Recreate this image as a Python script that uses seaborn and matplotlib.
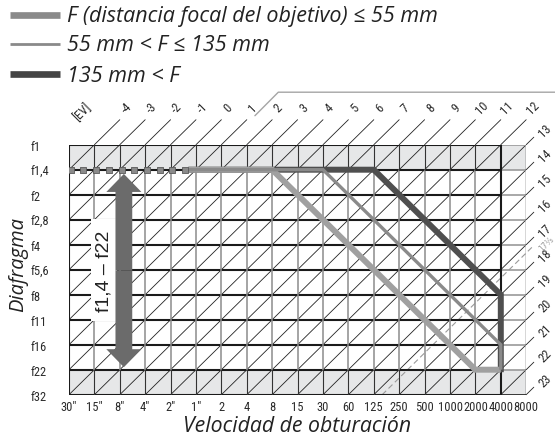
import matplotlib
matplotlib.use("Agg")
import matplotlib.pyplot as plt
from matplotlib.lines import Line2D
from matplotlib.patches import Rectangle, FancyArrow
from matplotlib import font_manager as fm
import numpy as np
import pandas as pd
import seaborn as sns

# ---------------- data ----------------
shutter_labels = ['30"', '15"', '8"', '4"', '2"', '1"', '2', '4', '8', '15', '30',
                  '60', '125', '250', '500', '1000', '2000', '4000', '8000']
aperture_labels = ['f1', 'f1,4', 'f2', 'f2,8', 'f4', 'f5,6', 'f8', 'f11', 'f16', 'f22', 'f32']
ev_top_labels = ['-4', '-3', '-2', '-1', '0', '1', '2', '3', '4', '5', '6', '7', '8', '9', '10', '11', '12']
ev_right_labels = ['13', '14', '15', '16', '17', '18', '19', '20', '21', '22', '23']
ev_top_values = [-4, -3, -2, -1, 0, 1, 2, 3, 4, 5, 6, 7, 8, 9, 10, 11, 12]
ev_right_values = [13, 14, 15, 16, 17, 18, 19, 20, 21, 22, 23]
ev_origin = -5          # EV at 30" and f1
ev_limit_value = 17.33
ev_limit_label = '17⅓'

legend_labels = ['F (distancia focal del objetivo) ≤ 55 mm',
                 '55 mm < F ≤ 135 mm',
                 '135 mm < F']

# program lines, in stop indices (x: shutter index, y: aperture index from f1)
wide_x = [4.7, 8, 16, 17]
wide_y = [1, 1, 9, 9]
mid_x = [4.7, 10, 17, 17]
mid_y = [1, 1, 8, 9]
tele_x = [4.7, 12, 17, 17]
tele_y = [1, 1, 6, 9.1]
ext_x = [0.07, 0.57, 1.07, 1.57, 2.07, 2.57, 3.07, 3.57, 4.07, 4.57]
ext_y = [1, 1, 1, 1, 1, 1, 1, 1, 1, 1]

# range arrow (f1,4 - f22)
arrow_x = 2.16
arrow_top = 1.17
arrow_bottom = 8.9

# ---------------- style ----------------
W, H = 555, 439
sns.set_style("white")
plt.rcParams['font.family'] = ['Liberation Sans', 'DejaVu Sans']

_names = {f.name for f in fm.fontManager.ttflist}
nfam = None
for cand in ['Nimbus Sans Narrow', 'Liberation Sans Narrow', 'Arial Narrow',
             'Roboto Condensed', 'PT Sans Narrow', 'Archivo Narrow',
             'Fira Sans Condensed', 'IBM Plex Sans Condensed',
             'Sofia Sans Semi Condensed', 'Sofia Sans Condensed']:
    if cand in _names:
        nfam = cand
        break
if nfam is None:
    narrow = ['Liberation Sans', 'DejaVu Sans']
    tick_fs = 7.5
else:
    narrow = [nfam, 'DejaVu Sans']
    tick_fs = 9.0
italic_font = ['Open Sans', 'DejaVu Sans']

C_WIDE = '#a0a0a0'
C_MID = '#8a8a8a'
C_TELE = '#4f4f4f'
C_SHADE = '#e6e7e8'
C_TXT = '#2a2a2a'

fig = plt.figure(figsize=(W / 100, H / 100), dpi=100)
ax = fig.add_axes([69 / W, 1 - 395.7 / H, 457.2 / W, 250 / H])
nx = len(shutter_labels) - 1
ny = len(aperture_labels) - 1
ax.set_xlim(0, nx)
ax.set_ylim(ny, 0)
for s in ax.spines.values():
    s.set_visible(False)
ax.grid(False)

# shaded rows
ax.axhspan(0, 1, color=C_SHADE, zorder=0, lw=0)
ax.axhspan(ny - 1, ny, color=C_SHADE, zorder=0, lw=0)

# diagonals (constant EV)
for s in range(1, nx + ny):
    i0 = max(0, s - ny)
    i1 = min(nx, s)
    ax.plot([i0, i1], [s - i0, s - i1], color='#222222', lw=0.6, zorder=1,
            solid_capstyle='butt')
for s in range(1, nx):
    ax.plot([s, s + 1], [0, -1], color='#222222', lw=0.6, zorder=1, clip_on=False)
for s in range(nx, nx + ny + 1):
    ax.plot([nx, nx + 0.3], [s - nx, s - nx - 0.3], color='#222222', lw=0.6,
            zorder=1, clip_on=False)

# EV 17 1/3 dashed line
s_lim = ev_limit_value - ev_origin
ax.plot([s_lim - ny, nx + 0.3], [ny, s_lim - nx - 0.3], color='#9a9a9a', lw=0.8,
        ls=(0, (5, 3)), zorder=2, clip_on=False)

# horizontal lines
for j in range(ny + 1):
    ax.plot([0, nx - 1], [j, j], color='#1a1a1a', lw=1.5, zorder=2, solid_capstyle='butt')
    ax.plot([nx - 1, nx], [j, j], color='#1a1a1a' if j == ny else '#9a9a9a',
            lw=1.2, zorder=2, solid_capstyle='butt')
# vertical lines
for i in range(nx + 1):
    if i in (0, nx - 1):
        ax.plot([i, i], [0, ny], color='#1a1a1a', lw=1.5, zorder=2)
    elif i == nx:
        ax.plot([i, i], [0, ny], color='#333333', lw=1.0, zorder=2)
    else:
        ax.plot([i, i], [1, ny - 1], color='#8c8c8c', lw=1.1, zorder=2)
        ax.plot([i, i], [0, 1], color='#333333', lw=0.8, zorder=2)
        ax.plot([i, i], [ny - 1, ny], color='#333333', lw=0.8, zorder=2)

# program lines
sns.lineplot(x=tele_x, y=tele_y, sort=False, estimator=None, color=C_TELE, lw=4.3,
             ax=ax, zorder=4, solid_joinstyle='miter', solid_capstyle='butt')
sns.lineplot(x=wide_x, y=wide_y, sort=False, estimator=None, color=C_WIDE, lw=4.3,
             ax=ax, zorder=5, solid_joinstyle='miter', solid_capstyle='butt')
sns.lineplot(x=mid_x, y=mid_y, sort=False, estimator=None, color=C_MID, lw=2.4,
             ax=ax, zorder=6, solid_joinstyle='miter', solid_capstyle='butt')
sns.scatterplot(x=ext_x, y=ext_y, marker='s', s=20, color='#8a8a8a',
                edgecolor='#5a5a5a', linewidth=0.6, ax=ax, zorder=6)

# range arrow with label box
mid = (arrow_top + arrow_bottom) / 2
for end in (arrow_top, arrow_bottom):
    ax.add_patch(FancyArrow(arrow_x, mid, 0, end - mid, width=0.66, head_width=1.38,
                            head_length=0.72, length_includes_head=True,
                            color='#6b6b6b', lw=0, zorder=8))
ax.add_patch(Rectangle((0.85, 2.97), 1.05, 4.08, facecolor='white', edgecolor='none',
                       zorder=7))
ax.text(1.38, mid, 'f1,4 – f22', rotation=90, ha='center', va='center', fontsize=14,
        color='#222222', zorder=9, family=['Liberation Sans', 'DejaVu Sans'])

# ticks
ax.set_xticks(range(nx + 1))
ax.set_xticklabels(shutter_labels, family=narrow, fontsize=tick_fs, color=C_TXT)
ax.set_yticks(range(ny + 1))
ax.set_yticklabels(aperture_labels, family=narrow, fontsize=tick_fs, color=C_TXT)
for t in ax.get_yticklabels():
    t.set_horizontalalignment('left')
ax.tick_params(axis='both', length=0)
ax.tick_params(axis='y', pad=28)
ax.tick_params(axis='x', pad=4)

# EV labels
for v, lab in zip(ev_top_values, ev_top_labels):
    ax.text(v - ev_origin + 1.25, -1.5, lab, rotation=45, ha='center', va='center',
            rotation_mode='anchor', fontsize=tick_fs, color=C_TXT, family=narrow,
            clip_on=False)
ax.text(0.52, -1.34, '[EV]', rotation=45, ha='center', va='center', rotation_mode='anchor',
        fontsize=tick_fs, color=C_TXT, family=narrow, clip_on=False)
for v, lab in zip(ev_right_values, ev_right_labels):
    ax.text(nx + 0.74, v - 13.6, lab, rotation=45, ha='center', va='center',
            rotation_mode='anchor', fontsize=tick_fs, color=C_TXT, family=narrow,
            clip_on=False)
ax.text(nx + 0.8, 3.92, ev_limit_label, rotation=45, ha='center', va='center',
        rotation_mode='anchor', fontsize=5.5, color='#999999',
        family=['DejaVu Sans'], clip_on=False)

# page frame line (top right)
ax.plot([7.32, 8.24, 19.3], [-1.16, -2.1, -2.1], color='#a5a5a5', lw=1.0, clip_on=False,
        zorder=1)

# axis titles
fig.text(296.7 / W, 1 - 427 / H, 'Velocidad de obturación', ha='center', va='center',
         fontsize=15.3, style='italic', family=italic_font, color='#222222')
fig.text(18 / W, 1 - 265 / H, 'Diafragma', ha='center', va='center', rotation=90,
         fontsize=14.5, style='italic', family=italic_font, color='#222222')

# legend
leg_y = [15.5, 44.5, 75]
leg_lw = [4.8, 2.0, 4.8]
leg_col = ['#8a8a8a', '#8a8a8a', '#444444']
for y, lw, col, lab in zip(leg_y, leg_lw, leg_col, legend_labels):
    fig.add_artist(Line2D([10 / W, 60 / W], [1 - y / H, 1 - y / H], lw=lw, color=col,
                          solid_capstyle='butt'))
    fig.text(67 / W, 1 - (y + 1) / H, lab, ha='left', va='center', fontsize=15.5,
             style='italic', family=italic_font, color='#222222')

fig.savefig('out.png', dpi=100)
